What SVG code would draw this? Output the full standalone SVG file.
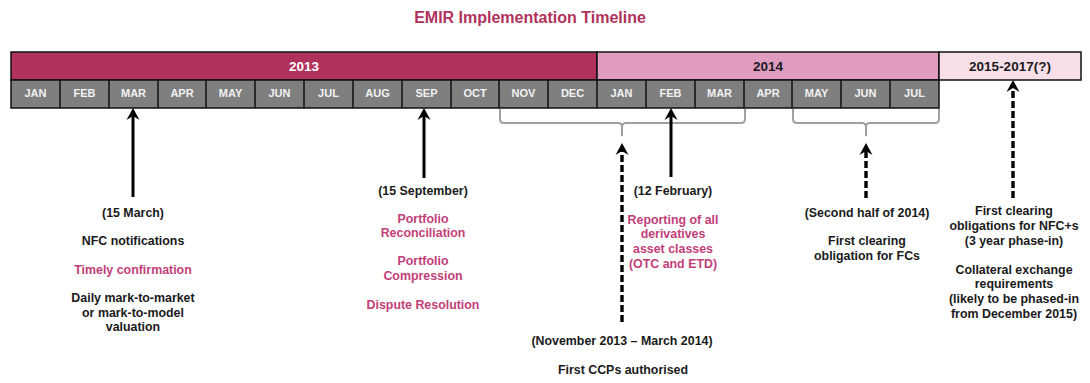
<svg xmlns="http://www.w3.org/2000/svg" width="1090" height="383" viewBox="0 0 1090 383">
<style>
text{font-family:"Liberation Sans",Arial,sans-serif;font-weight:bold;text-anchor:middle}
.title{font-size:16px;fill:#b0325c}
.yr{font-size:13.5px}
.mo{font-size:11px;fill:#f2f2f2}
.t{font-size:12.4px;fill:#1a1a1a}
.p{font-size:12.4px;fill:#c23e78}
.sep{stroke:#111;stroke-width:1.5}
.brace{fill:none;stroke:#a0a0a0;stroke-width:2}
.arr{stroke:#000;stroke-width:3;fill:none}
.dash{stroke:#000;stroke-width:3.4;fill:none;stroke-dasharray:7 3}
</style>
<defs>
<marker id="ah" markerUnits="userSpaceOnUse" markerWidth="15" markerHeight="15" refX="4" refY="7" orient="auto" viewBox="0 0 15 15">
<path d="M0,0.5 L12,7 L0,13.5 L4,7 Z" fill="#000"/>
</marker>
</defs>
<text class="title" x="530" y="23">EMIR Implementation Timeline</text>
<g id="years">
<rect x="11" y="52" width="586" height="28" fill="#b0325c" stroke="#111" stroke-width="1.5"/>
<rect x="597" y="52" width="342" height="28" fill="#df9cc0" stroke="#111" stroke-width="1.5"/>
<rect x="939" y="52" width="142" height="28" fill="#f7dfea" stroke="#111" stroke-width="1.5"/>
<text class="yr" x="304" y="71" fill="#fff">2013</text>
<text class="yr" x="768" y="71" fill="#1a1a1a">2014</text>
<text class="yr" x="1010" y="71" fill="#1a1a1a">2015-2017(?)</text>
</g>
<g id="months">
<rect x="11" y="80" width="928" height="28" fill="#7f7f7f" stroke="#111" stroke-width="1.5"/>
<path class="sep" d="M60,80V108M109,80V108M158,80V108M206,80V108M255,80V108M304,80V108M353,80V108M402,80V108M451,80V108M499,80V108M548,80V108M597,80V108M646,80V108M695,80V108M744,80V108M792,80V108M841,80V108M890,80V108"/>
<text class="mo" x="35.5" y="97">JAN</text>
<text class="mo" x="84.5" y="97">FEB</text>
<text class="mo" x="133.5" y="97">MAR</text>
<text class="mo" x="182" y="97">APR</text>
<text class="mo" x="230.5" y="97">MAY</text>
<text class="mo" x="279.5" y="97">JUN</text>
<text class="mo" x="328.5" y="97">JUL</text>
<text class="mo" x="377.5" y="97">AUG</text>
<text class="mo" x="426.5" y="97">SEP</text>
<text class="mo" x="475" y="97">OCT</text>
<text class="mo" x="523.5" y="97">NOV</text>
<text class="mo" x="572.5" y="97">DEC</text>
<text class="mo" x="621.5" y="97">JAN</text>
<text class="mo" x="670.5" y="97">FEB</text>
<text class="mo" x="719.5" y="97">MAR</text>
<text class="mo" x="768" y="97">APR</text>
<text class="mo" x="816.5" y="97">MAY</text>
<text class="mo" x="865.5" y="97">JUN</text>
<text class="mo" x="914.5" y="97">JUL</text>
</g>
<g id="connectors">
<path class="brace" d="M500,109V119Q500,123 504,123H618Q622,123 622,127V136M622,127Q622,123 626,123H741Q745,123 745,119V109"/>
<path class="brace" d="M793,109V119Q793,123 797,123H862Q866,123 866,127V136M866,127Q866,123 870,123H935Q939,123 939,119V109"/>
<line class="arr" x1="133" y1="197" x2="133" y2="116" marker-end="url(#ah)"/>
<line class="arr" x1="424" y1="178" x2="424" y2="116" marker-end="url(#ah)"/>
<line class="arr" x1="671" y1="177" x2="671" y2="116" marker-end="url(#ah)"/>
<line class="dash" x1="622" y1="322" x2="622" y2="151" marker-end="url(#ah)"/>
<line class="dash" x1="866" y1="198" x2="866" y2="151" marker-end="url(#ah)"/>
<line class="dash" x1="1013" y1="198" x2="1013" y2="88" marker-end="url(#ah)"/>
</g>
<g id="march">
<text class="t" x="133" y="216.5">(15 March)</text>
<text class="t" x="133" y="245">NFC notifications</text>
<text class="p" x="133" y="274">Timely confirmation</text>
<text class="t" x="133" y="302">Daily mark-to-market</text>
<text class="t" x="133" y="316.5">or mark-to-model</text>
<text class="t" x="133" y="331">valuation</text>
</g>
<g id="september">
<text class="t" x="423" y="195">(15 September)</text>
<text class="p" x="423" y="223">Portfolio</text>
<text class="p" x="423" y="237">Reconciliation</text>
<text class="p" x="423" y="265">Portfolio</text>
<text class="p" x="423" y="280">Compression</text>
<text class="p" x="423" y="309">Dispute Resolution</text>
</g>
<g id="february">
<text class="t" x="673" y="195">(12 February)</text>
<text class="p" x="673" y="224">Reporting of all</text>
<text class="p" x="673" y="238">derivatives</text>
<text class="p" x="673" y="252.5">asset classes</text>
<text class="p" x="673" y="267.5">(OTC and ETD)</text>
</g>
<g id="ccps">
<text class="t" x="622" y="345">(November 2013 – March 2014)</text>
<text class="t" x="623" y="374">First CCPs authorised</text>
</g>
<g id="second-half">
<text class="t" x="867" y="216.5">(Second half of 2014)</text>
<text class="t" x="867" y="245">First clearing</text>
<text class="t" x="867" y="260">obligation for FCs</text>
</g>
<g id="later">
<text class="t" x="1014" y="215">First clearing</text>
<text class="t" x="1014" y="230">obligations for NFC+s</text>
<text class="t" x="1014" y="245">(3 year phase-in)</text>
<text class="t" x="1014" y="274">Collateral exchange</text>
<text class="t" x="1014" y="288">requirements</text>
<text class="t" x="1014" y="303">(likely to be phased-in</text>
<text class="t" x="1014" y="317.5">from December 2015)</text>
</g>
</svg>
